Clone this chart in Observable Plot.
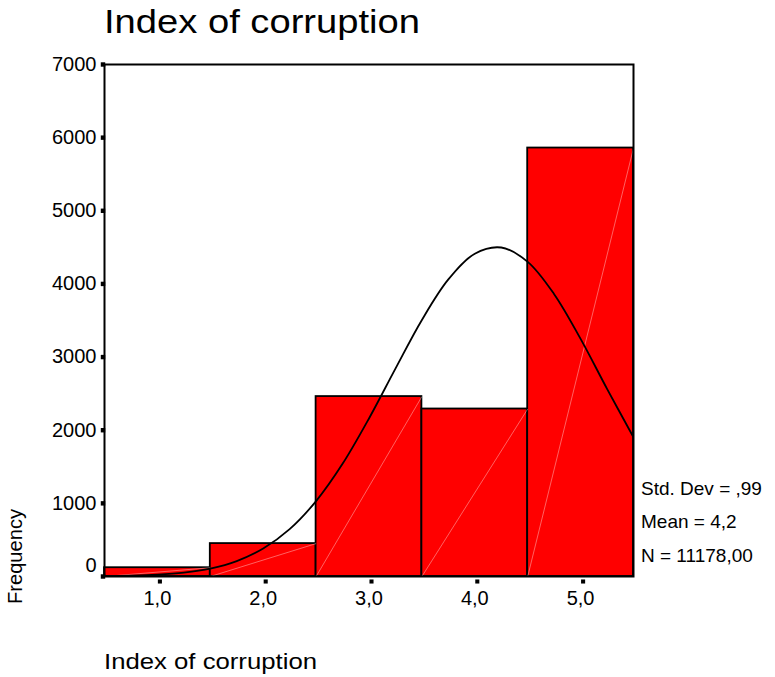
<!DOCTYPE html>
<html>
<head>
<meta charset="utf-8">
<script src="https://cdn.jsdelivr.net/npm/d3@7"></script>
<script src="https://cdn.jsdelivr.net/npm/@observablehq/plot@0.6"></script>
<style>
  html, body { margin: 0; padding: 0; background: #fff; }
  svg { display: block; }
</style>
</head>
<body>
<div id="chart"></div>
<script>
// ---- data ----
const binCenters = [1, 2, 3, 4, 5];
const binCounts = [120, 450, 2460, 2290, 5858];
const yTicks = [0, 1000, 2000, 3000, 4000, 5000, 6000, 7000];
const xTicks = [1, 2, 3, 4, 5];
// fitted normal curve
const curveX = [0.5, 0.75, 1.0, 1.25, 1.5, 1.75, 2.0, 2.25, 2.5, 2.75, 3.0, 3.25, 3.5, 3.75, 4.0, 4.25, 4.5, 4.75, 5.0, 5.25, 5.5];
const curveY = [4, 10, 24, 53, 109, 211, 382, 647, 1031, 1540, 2161, 2842, 3508, 4062, 4413, 4498, 4302, 3860, 3249, 2566, 1902];
const titleText = "Index of corruption";
const xLabel = "Index of corruption";
const yLabel = "Frequency";
const statsLines = ["Std. Dev = ,99", "Mean = 4,2", "N = 11178,00"];

const bars = binCenters.map((c, i) => ({lo: c - 0.5, hi: c + 0.5, n: binCounts[i]}));
const curve = curveX.map((x, i) => ({x, y: curveY[i]}));
const fmt = d => d.toFixed(1).replace(".", ",");
const FONT = "'Liberation Sans', Arial, sans-serif";

const W = 775, H = 677;
const plot = Plot.plot({
  width: W,
  height: H,
  marginLeft: 104,
  marginRight: 142,
  marginTop: 64,
  marginBottom: 101,
  style: {fontFamily: FONT, background: "#fff", color: "#000"},
  x: {domain: [0.5, 5.5], axis: null},
  y: {domain: [0, 7000], axis: null},
  marks: [
    Plot.rect(bars, {x1: "lo", x2: "hi", y1: 0, y2: "n", fill: "#ff0000", stroke: "#000", strokeWidth: 1.8}),
    Plot.link(bars, {x1: "lo", y1: 0, x2: "hi", y2: "n", stroke: "#fff", strokeOpacity: 0.55, strokeWidth: 0.7}),
    Plot.line(curve, {x: "x", y: "y", stroke: "#000", strokeWidth: 1.8, curve: "catmull-rom", clip: true}),
    Plot.frame({stroke: "#000", strokeWidth: 2}),
    // y ticks (small squares) and labels
    Plot.dot(yTicks, {y: d => d, frameAnchor: "left", dx: -1.5, symbol: "square", r: 2.5, fill: "#000", stroke: "none"}),
    Plot.text(yTicks.filter(d => d > 0), {y: d => d, text: d => String(d), frameAnchor: "left", textAnchor: "end", dx: -8, fontSize: 20, fill: "#000"}),
    Plot.text(yTicks.filter(d => d === 0), {y: d => d, text: d => String(d), frameAnchor: "left", textAnchor: "end", dx: -8, dy: -11, fontSize: 20, fill: "#000"}),
    // x ticks and labels
    Plot.dot(xTicks, {x: d => d, frameAnchor: "bottom", dx: 2.5, dy: 5, symbol: "square", r: 2.3, fill: "#000", stroke: "none"}),
    Plot.text(xTicks, {x: d => d, text: fmt, frameAnchor: "bottom", lineAnchor: "top", dy: 14, fontSize: 20, fill: "#000"})
  ]
});

document.getElementById("chart").appendChild(plot);

const svg = d3.select(plot);
const addText = (x, y, size, txt, len, transform) => {
  const t = svg.append("text")
    .attr("font-family", FONT).attr("font-size", size)
    .attr("text-anchor", "start")
    .attr("fill", "#000")
    .text(txt);
  if (transform) t.attr("transform", transform);
  else t.attr("x", x).attr("y", y);
  if (len) t.attr("textLength", len).attr("lengthAdjust", "spacingAndGlyphs");
  return t;
};

addText(104, 33, 34, titleText, 316);
addText(104, 669, 22, xLabel, 213);
addText(0, 0, 21, yLabel, 95, "translate(22,604) rotate(-90)");

const statY = [495, 528, 562];
statsLines.forEach((s, i) => addText(641, statY[i], 19, s));
</script>
</body>
</html>
